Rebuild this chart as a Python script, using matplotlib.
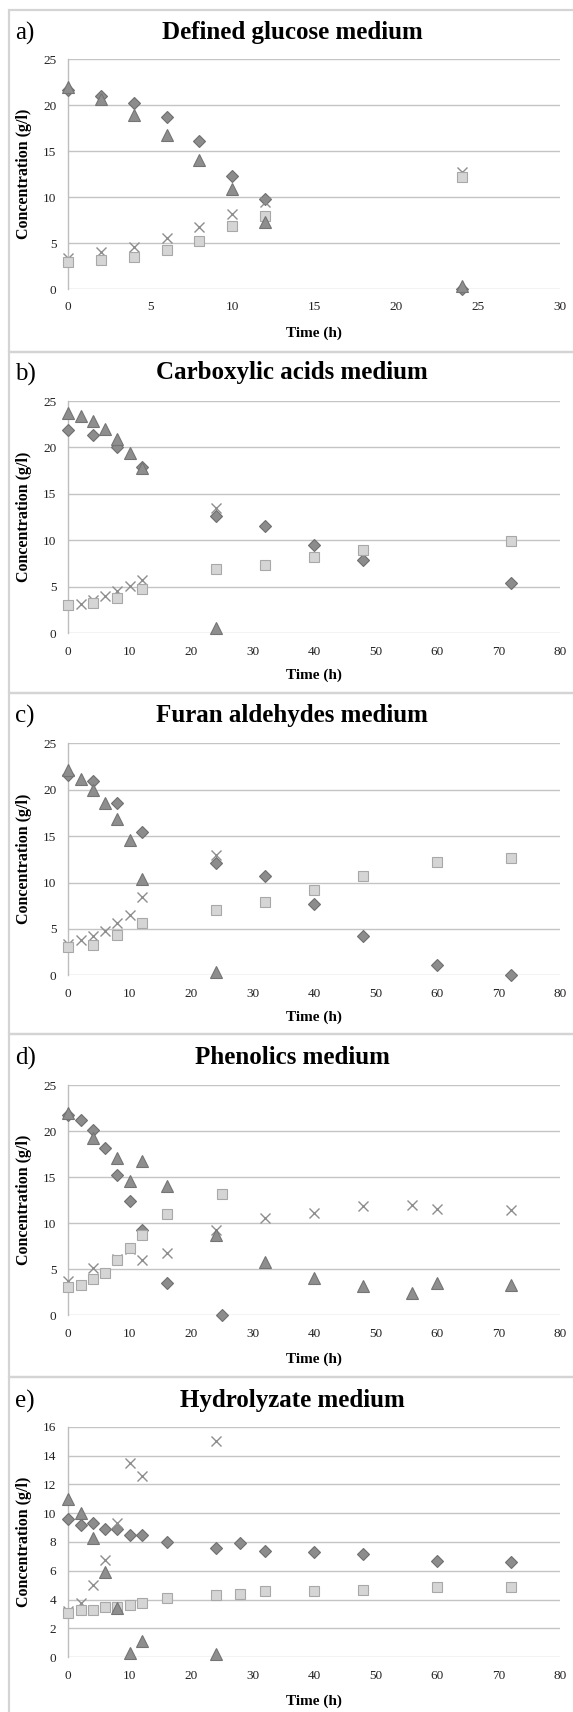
import matplotlib
matplotlib.use("Agg")
import matplotlib.pyplot as plt
from matplotlib.patches import Rectangle

plt.rcParams['font.family'] = ['Liberation Serif', 'DejaVu Serif']

# ---------------- data ----------------
a_time = [0, 2, 4, 6, 8, 10, 12, 24]
a_diamond = [21.6, 21.0, 20.2, 18.7, 16.1, 12.3, 9.8, 0.0]
a_triangle = [22.0, 20.6, 18.9, 16.7, 14.0, 10.9, 7.3, 0.3]
a_square = [2.9, 3.2, 3.5, 4.2, 5.2, 6.9, 7.9, 12.2]
a_cross = [3.4, 4.0, 4.6, 5.5, 6.7, 8.1, 9.5, 12.7]

b_tri_time = [0, 2, 4, 6, 8, 10, 12, 24]
b_triangle = [23.7, 23.4, 22.8, 22.0, 20.9, 19.4, 17.8, 0.6]
b_dia_time = [0, 4, 8, 12, 24, 32, 40, 48, 72]
b_diamond = [21.9, 21.3, 20.0, 17.9, 12.6, 11.6, 9.5, 7.9, 5.4]
b_sq_time = [0, 4, 8, 12, 24, 32, 40, 48, 72]
b_square = [3.0, 3.3, 3.8, 4.8, 6.9, 7.4, 8.2, 9.0, 9.9]
b_x_time = [0, 2, 4, 6, 8, 10, 12, 24]
b_cross = [3.0, 3.2, 3.6, 4.0, 4.5, 5.1, 5.7, 13.5]

c_tri_time = [0, 2, 4, 6, 8, 10, 12, 24]
c_triangle = [22.1, 21.1, 20.0, 18.6, 16.8, 14.6, 10.4, 0.4]
c_dia_time = [0, 4, 8, 12, 24, 32, 40, 48, 60, 72]
c_diamond = [21.6, 20.9, 18.6, 15.4, 12.1, 10.7, 7.7, 4.2, 1.1, 0.05]
c_sq_time = [0, 4, 8, 12, 24, 32, 40, 48, 60, 72]
c_square = [3.1, 3.3, 4.3, 5.6, 7.0, 7.9, 9.2, 10.7, 12.2, 12.6]
c_x_time = [0, 2, 4, 6, 8, 10, 12, 24]
c_cross = [3.4, 3.8, 4.2, 4.8, 5.6, 6.5, 8.4, 13.0]

d_tri_time = [0, 4, 8, 10, 12, 16, 24, 32, 40, 48, 56, 60, 72]
d_triangle = [22.0, 19.3, 17.1, 14.6, 16.8, 14.0, 8.7, 5.8, 4.0, 3.2, 2.4, 3.5, 3.3]
d_dia_time = [0, 2, 4, 6, 8, 10, 12, 16, 25]
d_diamond = [21.7, 21.2, 20.1, 18.2, 15.2, 12.4, 9.3, 3.5, 0.0]
d_sq_time = [0, 2, 4, 6, 8, 10, 12, 16, 25]
d_square = [3.1, 3.3, 3.9, 4.6, 6.0, 7.3, 8.7, 11.0, 13.2]
d_x_time = [0, 4, 8, 10, 12, 16, 24, 32, 40, 48, 56, 60, 72]
d_cross = [3.7, 5.1, 6.1, 7.2, 6.0, 6.8, 9.3, 10.6, 11.1, 11.9, 12.0, 11.5, 11.4]

e_dia_time = [0, 2, 4, 6, 8, 10, 12, 16, 24, 28, 32, 40, 48, 60, 72]
e_diamond = [9.6, 9.2, 9.3, 8.9, 8.9, 8.5, 8.5, 8.0, 7.6, 7.9, 7.4, 7.3, 7.2, 6.7, 6.6]
e_tri_time = [0, 2, 4, 6, 8, 10, 12, 24]
e_triangle = [11.0, 10.0, 8.3, 5.9, 3.4, 0.3, 1.1, 0.2]
e_sq_time = [0, 2, 4, 6, 8, 10, 12, 16, 24, 28, 32, 40, 48, 60, 72]
e_square = [3.05, 3.3, 3.3, 3.5, 3.5, 3.6, 3.8, 4.1, 4.3, 4.4, 4.6, 4.6, 4.7, 4.9, 4.9]
e_x_time = [0, 2, 4, 6, 8, 10, 12, 24]
e_cross = [3.2, 3.8, 5.0, 6.75, 9.3, 13.5, 12.6, 15.0]

panel_letters = ["a)", "b)", "c)", "d)", "e)"]
panel_titles = ["Defined glucose medium", "Carboxylic acids medium",
                "Furan aldehydes medium", "Phenolics medium", "Hydrolyzate medium"]
x_max = [30, 80, 80, 80, 80]
x_step = [5, 10, 10, 10, 10]
y_max = [25, 25, 25, 25, 16]
y_step = [5, 5, 5, 5, 2]

series = [
    dict(diamond=(a_time, a_diamond), triangle=(a_time, a_triangle),
         square=(a_time, a_square), cross=(a_time, a_cross)),
    dict(diamond=(b_dia_time, b_diamond), triangle=(b_tri_time, b_triangle),
         square=(b_sq_time, b_square), cross=(b_x_time, b_cross)),
    dict(diamond=(c_dia_time, c_diamond), triangle=(c_tri_time, c_triangle),
         square=(c_sq_time, c_square), cross=(c_x_time, c_cross)),
    dict(diamond=(d_dia_time, d_diamond), triangle=(d_tri_time, d_triangle),
         square=(d_sq_time, d_square), cross=(d_x_time, d_cross)),
    dict(diamond=(e_dia_time, e_diamond), triangle=(e_tri_time, e_triangle),
         square=(e_sq_time, e_square), cross=(e_x_time, e_cross)),
]

# ---------------- layout (pixels) ----------------
W, H = 573, 1712
fig = plt.figure(figsize=(W / 100, H / 100), dpi=100)
fig.patch.set_facecolor('white')

frame_tops = [10, 351.7, 692.7, 1034, 1376.7]
ax_tops = [59, 401, 743.3, 1085, 1426.7]
ax_bots = [289, 633.3, 975.3, 1315.3, 1657.3]
title_y = [32, 373, 715, 1057, 1400]
xlabel_y = [333, 675, 1017.7, 1359, 1701.7]
ax_left, ax_right = 68.3, 560

def fx(px):
    return px / W

def fy(py):
    return 1 - py / H

styles = {
    'diamond': dict(marker='D', ms=6.1, mfc='#8c8c8c', mec='#6f6f6f', mew=0.8, zorder=3),
    'cross': dict(marker='x', ms=7.5, color='#8e8e8e', mew=1.0, zorder=4),
    'square': dict(marker='s', ms=7.2, mfc='#d5d5d5', mec='#a8a8a8', mew=0.8, zorder=5),
    'triangle': dict(marker='^', ms=8.2, mfc='#8e8e8e', mec='#747474', mew=0.8, zorder=6),
}

for i in range(5):
    top = frame_tops[i]
    bottom = frame_tops[i + 1] if i < 4 else H + 5
    fig.patches.append(Rectangle((fx(9), fy(bottom)), fx(W + 20 - 9), fy(top) - fy(bottom),
                                 transform=fig.transFigure, fill=False,
                                 edgecolor='#d4d4d4', linewidth=1.6, zorder=0))

    ax = fig.add_axes([fx(ax_left), fy(ax_bots[i]), fx(ax_right - ax_left),
                       fy(ax_tops[i]) - fy(ax_bots[i])])
    ax.set_xlim(0, x_max[i])
    ax.set_ylim(0, y_max[i])
    ax.set_xticks(range(0, x_max[i] + 1, x_step[i]))
    ax.set_yticks(range(0, y_max[i] + 1, y_step[i]))
    for s in ['top', 'right', 'bottom']:
        ax.spines[s].set_visible(False)
    ax.spines['left'].set_color('#bdbdbd')
    ax.spines['left'].set_linewidth(1.0)
    ax.grid(axis='y', color='#c4c4c4', linewidth=1.0)
    ax.set_axisbelow(True)
    ax.tick_params(axis='both', length=0, labelsize=9.5, labelcolor='#222222')
    ax.tick_params(axis='y', pad=8.5)
    ax.tick_params(axis='x', pad=9)

    for key in ['diamond', 'cross', 'square', 'triangle']:
        t, v = series[i][key]
        ax.plot(t, v, linestyle='none', clip_on=False, **styles[key])

    ax.set_ylabel("Concentration (g/l)", fontsize=11.5, fontweight='bold', labelpad=6)
    ax.yaxis.set_label_coords(fx(32 - ax_left) / fx(ax_right - ax_left), 0.5)

    fig.text(fx(292), fy(title_y[i]), panel_titles[i], fontsize=18, fontweight='bold',
             ha='center', va='center')
    fig.text(fx(15), fy(title_y[i] + 1), panel_letters[i], fontsize=18,
             ha='left', va='center')
    fig.text(fx((ax_left + ax_right) / 2), fy(xlabel_y[i]), "Time (h)", fontsize=11,
             fontweight='bold', ha='center', va='center')

fig.savefig("out.png", dpi=100)
